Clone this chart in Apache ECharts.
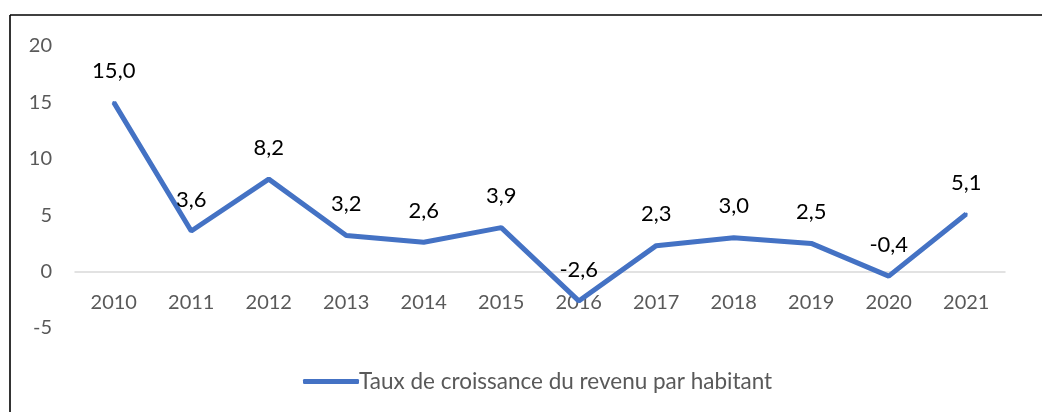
<!DOCTYPE html>
<html>
<head>
<meta charset="utf-8">
<script src="https://cdn.jsdelivr.net/npm/echarts@6/dist/echarts.min.js"></script>
<style>
  html, body { margin: 0; padding: 0; background: #fff; }
  #chart { width: 1042px; height: 412px; }
</style>
</head>
<body>
<div id="chart"></div>
<script>
var years = ['2010', '2011', '2012', '2013', '2014', '2015', '2016', '2017', '2018', '2019', '2020', '2021'];
var croissance = [15.0, 3.6, 8.2, 3.2, 2.6, 3.9, -2.6, 2.3, 3.0, 2.5, -0.4, 5.1];
var seriesName = 'Taux de croissance du revenu par habitant';

var font = 'Lato, "Open Sans", sans-serif';
var myChart = echarts.init(document.getElementById('chart'));

var option = {
  animation: false,
  textStyle: { fontFamily: font },
  grid: { left: 75, right: 37, top: 46, bottom: 84 },
  // cadre : trait en haut et à gauche
  graphic: [
    { type: 'line', shape: { x1: 10, y1: 15, x2: 1042, y2: 15 }, style: { stroke: '#000', lineWidth: 1.6 } },
    { type: 'line', shape: { x1: 10, y1: 15, x2: 10, y2: 412 }, style: { stroke: '#000', lineWidth: 1.6 } }
  ],
  legend: {
    bottom: 14,
    left: 298,
    icon: 'roundRect',
    itemWidth: 56,
    itemHeight: 5,
    itemStyle: { color: '#4472c4' },
    textStyle: { color: '#595959', fontSize: 22.5, fontFamily: font, padding: [0, 0, 0, -5] },
    data: [seriesName]
  },
  xAxis: {
    type: 'category',
    data: years,
    boundaryGap: true,
    axisLine: { onZero: true, lineStyle: { color: '#d9d9d9', width: 1.5 } },
    axisTick: { show: false },
    axisLabel: { color: '#595959', fontSize: 20, margin: -35 }
  },
  yAxis: {
    type: 'value',
    min: -5,
    max: 20,
    interval: 5,
    axisLine: { show: false },
    axisTick: { show: false },
    splitLine: { show: false },
    axisLabel: { color: '#595959', fontSize: 20, margin: 23 }
  },
  series: [
    {
      name: seriesName,
      type: 'line',
      data: croissance,
      symbol: 'circle',
      symbolSize: 3,
      showSymbol: true,
      lineStyle: { color: '#4472c4', width: 5 },
      itemStyle: { color: '#4472c4' },
      label: {
        show: true,
        position: 'top',
        distance: 19,
        color: '#000',
        fontSize: 22,
        formatter: function (p) { return p.value.toFixed(1).replace('.', ','); }
      }
    }
  ]
};

myChart.setOption(option);
</script>
</body>
</html>
